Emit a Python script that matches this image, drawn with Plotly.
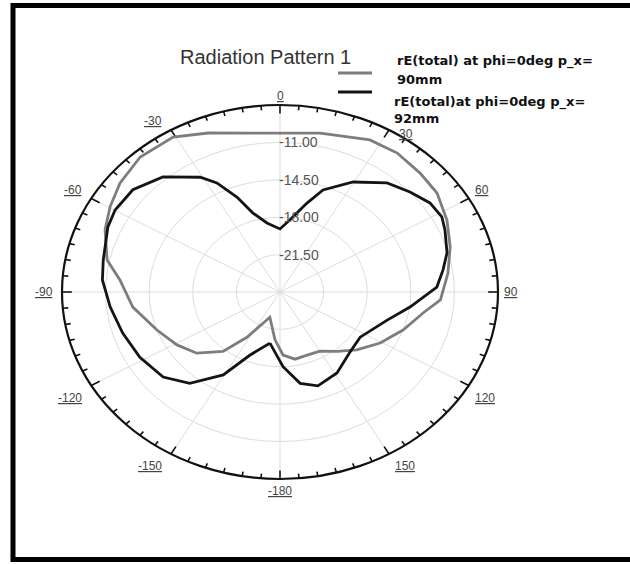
import numpy as np
import plotly.graph_objects as go

# ---- page / pole geometry (pixels) ----
W, H = 630, 564
CX, CY = 280, 292          # pole position
RX, RY = 218, 187          # semi-axes of the outer ring

# ---- radial scale (dB) ----
R_MIN, R_MAX = -25.0, -7.5
RING_VALUES = [-21.5, -18.0, -14.5, -11.0]
RING_LABELS = ["-21.50", "-18.00", "-14.50", "-11.00"]

# ---- angular scale (deg, clockwise from top) ----
ANGLE_TICKS = [0, 30, 60, 90, 120, 150, 180, -150, -120, -90, -60, -30]
ANGLE_LABELS = ["0", "30", "60", "90", "120", "150", "-180", "-150", "-120", "-90", "-60", "-30"]

# ---- rE(total) at phi=0deg, p_x = 90mm ----
theta_90 = [-174.9, -161.0, -147.9, -140.5, -130.6, -120.9, -109.8, -96.8, -85.0, -77.8,
            -67.5, -59.7, -51.5, -41.6, -30.6, -21.2, -9.2, 0.0, 12.2, 26.9,
            35.9, 45.3, 53.7, 63.3, 72.8, 82.5, 93.3, 99.7, 109.8, 120.7,
            131.3, 140.4, 149.9, 159.8, 169.1, 177.6]
r_90 = [-20.5, -22.5, -20.0, -17.8, -16.2, -15.36, -14.5, -13.1, -12.1, -10.8,
        -9.8, -9.2, -8.6, -8.1, -8.15, -9.04, -9.93, -10.12, -9.78, -9.04,
        -8.95, -9.18, -9.36, -10.0, -10.7, -11.4, -12.1, -13.35, -14.5, -15.65,
        -16.8, -17.8, -18.6, -18.7, -18.6, -19.1]

# ---- rE(total) at phi=0deg, p_x = 92mm ----
theta_92 = [-170.4, -157.7, -149.6, -139.7, -130.3, -118.5, -106.9, -95.9, -85.5, -78.1,
            -66.2, -59.9, -51.0, -41.1, -30.8, -26.4, -21.2, -16.4, -9.2, 0.0,
            6.8, 14.6, 19.9, 29.7, 40.1, 48.1, 55.3, 61.6, 66.3, 74.7,
            81.0, 87.9, 97.7, 107.0, 123.3, 135.0, 148.9, 160.9, 169.3, 178.0]
r_92 = [-20.15, -18.6, -16.0, -13.8, -12.7, -12.2, -11.8, -11.3, -10.7, -10.5,
        -9.9, -9.7, -9.8, -10.7, -12.5, -13.6, -15.5, -17.3, -18.45, -19.1,
        -18.2, -16.4, -14.85, -13.15, -11.66, -10.98, -10.36, -10.23, -10.54, -11.1,
        -11.75, -12.4, -14.47, -16.0, -17.3, -17.05, -16.15, -15.7, -16.3, -18.0]

SERIES = [
    ("rE(total) at phi=0deg p_x=", "90mm", theta_90, r_90, "#7d7d7d"),
    ("rE(total)at phi=0deg p_x=", "92mm", theta_92, r_92, "#141414"),
]


def rho_of(r):
    return (np.asarray(r, dtype=float) - R_MIN) / (R_MAX - R_MIN)


def to_xy(theta, rho):
    t = np.radians(np.asarray(theta, dtype=float))
    return rho * np.sin(t), rho * np.cos(t)


def px(x):
    return x / W


def py(y):
    return 1 - y / H


fig = go.Figure()

# spokes every 30 degrees
sx, sy = [], []
for a in range(0, 360, 30):
    ex, ey = to_xy([a], np.array([1.0]))
    sx += [0, ex[0], None]
    sy += [0, ey[0], None]
fig.add_trace(go.Scatter(x=sx, y=sy, mode="lines", line=dict(color="#dddddd", width=1),
                         hoverinfo="skip", showlegend=False))

# tick marks on the outer ring (every 5 deg, longer every 30 deg)
tx, ty = [], []
for a in range(0, 360, 5):
    inner = 1 - (0.045 if a % 30 == 0 else 0.025)
    xs, ys = to_xy([a, a], np.array([1.0, inner]))
    tx += [xs[0], xs[1], None]
    ty += [ys[0], ys[1], None]
fig.add_trace(go.Scatter(x=tx, y=ty, mode="lines", line=dict(color="#111111", width=1.6),
                         hoverinfo="skip", showlegend=False))

# pattern curves (closed)
for name, sub, th, rr, col in SERIES:
    th_c = list(th) + [th[0]]
    rr_c = list(rr) + [rr[0]]
    x, y = to_xy(th_c, rho_of(rr_c))
    fig.add_trace(go.Scatter(x=x, y=y, mode="lines", name=f"{name} {sub}",
                             line=dict(color=col, width=2.8), showlegend=False,
                             hoverinfo="skip"))

shapes = []
# grid rings
for v in RING_VALUES:
    k = float(rho_of(v))
    shapes.append(dict(type="circle", xref="x", yref="y", x0=-k, x1=k, y0=-k, y1=k,
                       line=dict(color="#dddddd", width=1), layer="below"))
# outer ring
shapes.append(dict(type="circle", xref="x", yref="y", x0=-1, x1=1, y0=-1, y1=1,
                   line=dict(color="#111111", width=2.2), layer="above"))
# page frame
shapes.append(dict(type="rect", xref="paper", yref="paper",
                   x0=px(13), x1=px(W + 20), y0=py(559.5), y1=py(5.5),
                   line=dict(color="#000000", width=5)))

annotations = []
# radial labels
for v, lab in zip(RING_VALUES, RING_LABELS):
    annotations.append(dict(x=0, y=float(rho_of(v)), xref="x", yref="y", text=lab,
                            showarrow=False, xanchor="left", yanchor="middle", xshift=-3,
                            font=dict(family="Liberation Sans, Arial", size=14, color="#555555")))
# angular labels
for a, lab in zip(ANGLE_TICKS, ANGLE_LABELS):
    ex, ey = to_xy([a], np.array([1.0]))
    c = np.cos(np.radians(a))
    s = np.sin(np.radians(a))
    if c > 0.3:
        ya, ys = "bottom", 0
    elif c < -0.3:
        ya, ys = "top", -3
    else:
        ya, ys = "middle", 0
    if abs(s) < 0.1:
        xa, xs = "center", 0
    elif s < 0:
        xa, xs = "right", -7
    else:
        xa, xs = "left", 4
    if a == 30:
        # keep clear of the second legend label just above
        ya, ys, xs = "middle", -4, 8
    annotations.append(dict(x=float(ex[0]), y=float(ey[0]), xref="x", yref="y",
                            text=f"<u>{lab}</u>", showarrow=False,
                            xanchor=xa, yanchor=ya, xshift=xs, yshift=ys,
                            font=dict(family="Liberation Sans, Arial", size=12, color="#444444")))

# title
annotations.append(dict(x=px(265), y=py(57), xref="paper", yref="paper",
                        text="Radiation Pattern 1", showarrow=False,
                        xanchor="center", yanchor="middle",
                        font=dict(family="Liberation Sans, Arial", size=20, color="#333333")))

# legend (line samples + two-line labels)
legend_rows = [(73, 395, 61, 80), (92, 392, 102, 118)]
for (line_y, tx0, y1, y2), (name, sub, th, rr, col) in zip(legend_rows, SERIES):
    shapes.append(dict(type="line", xref="paper", yref="paper",
                       x0=px(338), x1=px(372), y0=py(line_y), y1=py(line_y),
                       line=dict(color=col, width=3)))
    for txt, yy in ((name, y1), (sub, y2)):
        annotations.append(dict(x=px(tx0), y=py(yy), xref="paper", yref="paper",
                                text=f"<b>{txt}</b>", showarrow=False,
                                xanchor="left", yanchor="middle",
                                font=dict(family="DejaVu Sans", size=13, color="#111111")))

fig.update_layout(
    width=W, height=H,
    margin=dict(l=0, r=0, t=0, b=0),
    paper_bgcolor="white", plot_bgcolor="white",
    xaxis=dict(range=[-CX / RX, (W - CX) / RX], visible=False, fixedrange=True),
    yaxis=dict(range=[-(H - CY) / RY, CY / RY], visible=False, fixedrange=True),
    shapes=shapes, annotations=annotations,
    showlegend=False,
)

fig.write_html("out.html")
